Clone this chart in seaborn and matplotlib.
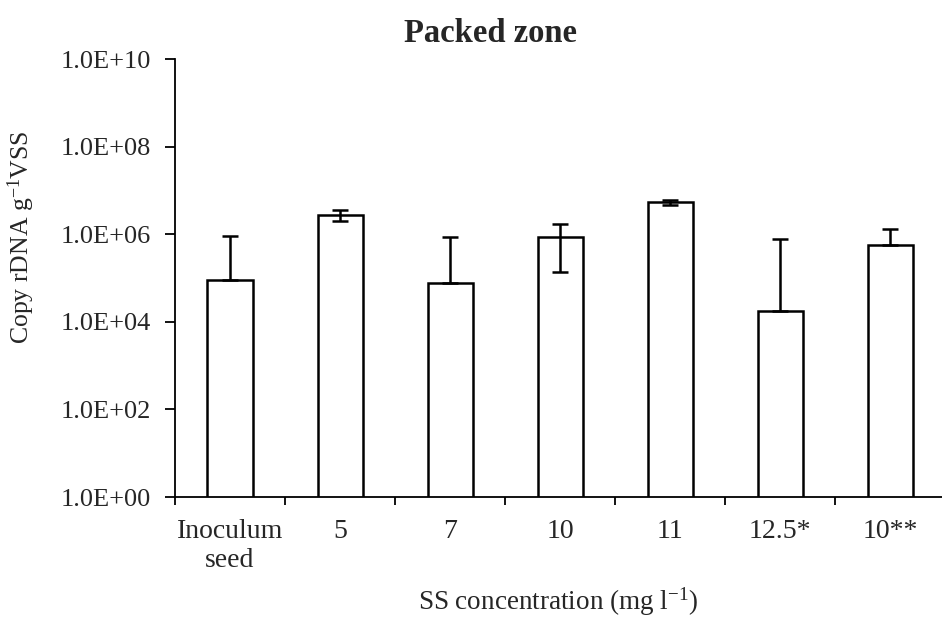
import matplotlib
matplotlib.use("Agg")
import matplotlib.pyplot as plt
import matplotlib.ticker as mticker
import seaborn as sns
import numpy as np
import pandas as pd

categories = ["Inoculum\nseed", "5", "7", "10", "11", "12.5*", "10**"]
copies = [8.9e4, 2.8e6, 7.8e4, 8.8e5, 5.5e6, 1.77e4, 5.8e5]
err_upper = [9.3e5, 3.6e6, 8.7e5, 1.7e6, 6.0e6, 7.6e5, 1.29e6]   # top of error bar
err_lower = [8.9e4, 2.0e6, 7.8e4, 1.4e5, 4.6e6, 1.77e4, 5.8e5]   # bottom of error bar (= value when not drawn)
ytick_vals = [1e0, 1e2, 1e4, 1e6, 1e8, 1e10]
ytick_labels = ["1.0E+00", "1.0E+02", "1.0E+04", "1.0E+06", "1.0E+08", "1.0E+10"]

sns.set_theme(style="white")
plt.rcParams["font.family"] = ["Liberation Serif", "DejaVu Serif"]
plt.rcParams["mathtext.fontset"] = "custom"
plt.rcParams["mathtext.rm"] = "Liberation Serif"
plt.rcParams["mathtext.it"] = "Liberation Serif:italic"
plt.rcParams["mathtext.bf"] = "Liberation Serif:bold"

df = pd.DataFrame({"cat": categories, "val": copies})

fig = plt.figure(figsize=(9.42, 6.22), dpi=100)
ax = fig.add_axes([175 / 942, 1 - 497 / 622, 1 - 175 / 942, (497 - 59) / 622])
ax.set_yscale("log")

sns.barplot(data=df, x="cat", y="val", color="white", edgecolor="black",
            linewidth=1.8, width=0.41, saturation=1, ax=ax, zorder=2)

x = np.arange(len(categories))
vals = np.array(copies)
lo = vals - np.array(err_lower)
hi = np.array(err_upper) - vals
ax.errorbar(x, vals, yerr=[lo, hi], fmt="none", ecolor="black",
            elinewidth=1.8, capsize=6, capthick=1.8, zorder=3)

ax.set_ylim(1, 1e10)
ax.set_xlim(-0.5, 6.47)
ax.yaxis.set_major_locator(mticker.FixedLocator(ytick_vals))
ax.yaxis.set_major_formatter(mticker.FixedFormatter(ytick_labels))
ax.yaxis.set_minor_locator(mticker.NullLocator())

ax.set_xticks(x)
ax.set_xticklabels(categories, linespacing=1.2)
ax.set_xticks(np.arange(-0.5, 6.5, 1.0), minor=True)
ax.tick_params(axis="x", which="major", length=0, pad=16, labelsize=20)
ax.tick_params(axis="x", which="minor", length=6, width=1.3, color="black", direction="out", bottom=True)
ax.tick_params(axis="y", which="major", length=7, width=1.3, color="black", direction="out", left=True, pad=10, labelsize=19)

for side in ["top", "right"]:
    ax.spines[side].set_visible(False)
for side in ["left", "bottom"]:
    ax.spines[side].set_color("black")
    ax.spines[side].set_linewidth(1.3)

ax.set_xlabel(r"SS concentration (mg l$^{\mathrm{-1}}$)", fontsize=19.5)
ax.xaxis.set_label_coords((558 - 175) / 767, -(586 - 497) / 438)
ax.set_ylabel(r"Copy rDNA g$^{\mathrm{-1}}$VSS", fontsize=18.5)
ax.yaxis.set_label_coords((37 - 175) / 767, (497 - 237) / 438)
ax.set_title("Packed zone", fontsize=23.5, fontweight="bold", pad=12, x=(490 - 175) / (942 - 175))

fig.savefig("out.png", dpi=100, facecolor="white")
